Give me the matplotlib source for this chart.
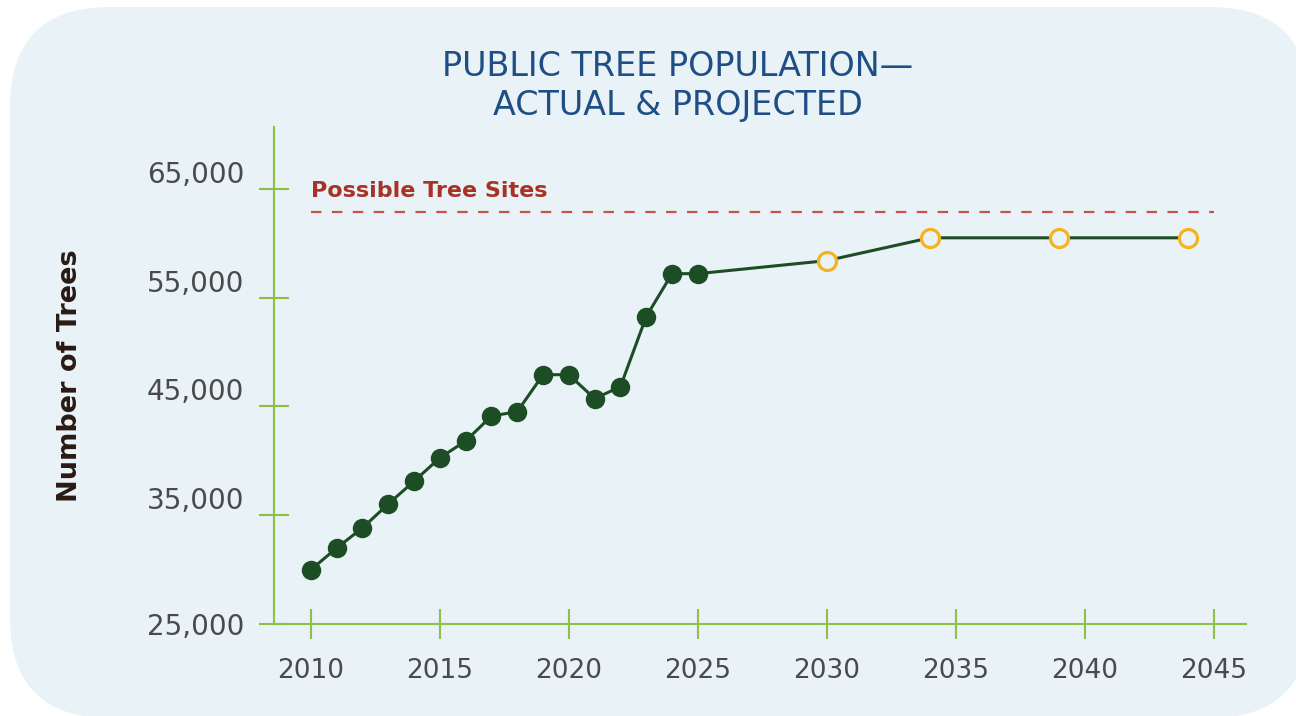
import matplotlib
matplotlib.use("Agg")
import matplotlib.pyplot as plt
from matplotlib.patches import FancyBboxPatch

# data
actual_years = [2010, 2011, 2012, 2013, 2014, 2015, 2016, 2017, 2018,
                2019, 2020, 2021, 2022, 2023, 2024, 2025]
actual_trees = [29950, 31950, 33800, 36000, 38100, 40250, 41800, 44100, 44500,
                47900, 47900, 45700, 46800, 53250, 57200, 57200]
proj_years = [2030, 2034, 2039, 2044]
proj_trees = [58400, 60500, 60500, 60500]
possible_sites = 62900
x_ticks = [2010, 2015, 2020, 2025, 2030, 2035, 2040, 2045]
y_ticks = [25000, 35000, 45000, 55000, 65000]

panel_col = "#E9F2F7"
axis_col = "#8DC044"
line_col = "#1D4D24"
proj_col = "#F5B320"
site_col = "#A93226"
tick_txt = "#4A4A4A"
title_col = "#1F4E85"

W, H = 1296, 716
fig = plt.figure(figsize=(W / 100, H / 100), dpi=100)
fig.patch.set_facecolor("white")

# rounded background panel (inches, so the corners stay round)
panel = FancyBboxPatch((0.10, -0.02), 13.0, 7.11, transform=fig.dpi_scale_trans,
                       boxstyle="round,pad=0,rounding_size=1.0",
                       facecolor=panel_col, edgecolor="none", zorder=-5)
fig.patches.append(panel)

ax = fig.add_axes([274 / W, (H - 623.5) / H, (1246 - 274) / W, (623.5 - 127) / H])
ax.set_facecolor("none")
ax.set_zorder(2)

ax.plot(actual_years + proj_years[:1], actual_trees + proj_trees[:1],
        color=line_col, lw=2.2, zorder=2)
ax.plot(proj_years, proj_trees, color=line_col, lw=2.2, zorder=2)
ax.plot(actual_years, actual_trees, "o", color=line_col, ms=13, zorder=3)
ax.plot(proj_years, proj_trees, "o", mfc=panel_col, mec=proj_col, mew=2.3,
        ms=13, zorder=3)

ax.plot([2010, 2045], [possible_sites] * 2, color="#C8524A", lw=1.6,
        dashes=(4.7, 4.7), zorder=1)
ax.text(2010, possible_sites + 1000, "Possible Tree Sites", color=site_col,
        fontsize=16, fontweight="bold", ha="left", va="bottom")

ax.set_xlim(2008.57, 2046.25)
ax.set_ylim(25000, 70700)
ax.set_xticks(x_ticks)
ax.set_yticks(y_ticks)
ax.set_yticklabels([f"{v:,}" for v in y_ticks])

for side in ["top", "right"]:
    ax.spines[side].set_visible(False)
for side in ["left", "bottom"]:
    ax.spines[side].set_color(axis_col)
    ax.spines[side].set_linewidth(1.5)
ax.tick_params(axis="both", direction="inout", length=21, width=1.5,
               color=axis_col, labelcolor=tick_txt, labelsize=19)
ax.tick_params(axis="x", pad=14)
ax.tick_params(axis="y", pad=11, labelsize=20)

# labels sit above their ticks, except the bottom one
for lab in ax.get_yticklabels()[1:]:
    lab.set_va("bottom")

ax.set_ylabel("Number of Trees", fontsize=19.5, fontweight="heavy",
              color="#2A1A14", labelpad=46)

fig.text(678 / W, 1 - 86 / H, "PUBLIC TREE POPULATION\u2014\nACTUAL & PROJECTED",
         ha="center", va="center", fontsize=24, color=title_col,
         linespacing=1.22)

fig.savefig("out.png", dpi=100)
